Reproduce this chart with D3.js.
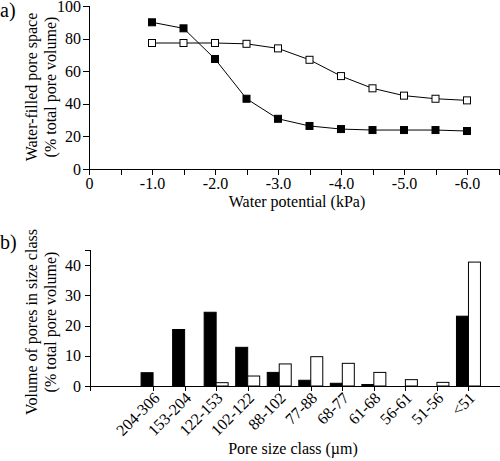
<!DOCTYPE html>
<html>
<head>
<meta charset="utf-8">
<script src="https://cdn.jsdelivr.net/npm/d3@7"></script>
<style>
  html, body { margin: 0; padding: 0; background: #fff; }
  svg { display: block; }
</style>
</head>
<body>
<script>
// ---------- Data: panel a ----------
const potentials = [-1.0, -1.5, -2.0, -2.5, -3.0, -3.5, -4.0, -4.5, -5.0, -5.5, -6.0];
const filledSeries = [90, 86.3, 67.5, 43.1, 30.8, 26.4, 24.5, 23.9, 23.9, 23.9, 23.3];
const openSeries = [77.3, 77.3, 77.3, 76.8, 74, 67, 57, 49.5, 45, 43.1, 42.1];
const xTicksA = [0, -0.5, -1.0, -1.5, -2.0, -2.5, -3.0, -3.5, -4.0, -4.5, -5.0, -5.5, -6.0];
const yTicksA = [0, 20, 40, 60, 80, 100];

// ---------- Data: panel b ----------
const poreClasses = ["204-306", "153-204", "122-153", "102-122", "88-102", "77-88", "68-77", "61-68", "56-61", "51-56", "<51"];
const blackBars = [4.4, 18.7, 24.4, 12.8, 4.5, 1.9, 0.9, 0.5, 0, 0, 23.1];
const whiteBars = [0, 0, 1.1, 3.3, 7.3, 9.7, 7.5, 4.5, 2.1, 1.2, 41];
const yTicksB = [0, 10, 20, 30, 40];

const FONT = "'Liberation Serif', 'Times New Roman', Times, serif";
const W = 500, H = 461;
const svg = d3.select("body").append("svg").attr("width", W).attr("height", H)
  .style("font-family", FONT);

function styleAxis(g) {
  g.attr("font-family", null).attr("font-size", null);
  g.selectAll("path, line").attr("stroke", "#000").attr("shape-rendering", "crispEdges");
  g.selectAll("text").style("font-family", FONT).style("font-size", "16px").attr("fill", "#000");
}

// ================= Panel a =================
const xa = d3.scaleLinear().domain([0, -6.5]).range([89, 498.5]);
const ya = d3.scaleLinear().domain([0, 100]).range([169, 6]);

svg.append("g")
  .attr("transform", "translate(0,169)")
  .call(d3.axisBottom(xa).tickValues(xTicksA).tickSizeOuter(0).tickSize(6).tickPadding(3)
    .tickFormat(d => d === 0 ? "0" : (Math.abs(d % 1) < 1e-9 ? d.toFixed(1) : "")))
  .call(styleAxis);

svg.append("g")
  .attr("transform", "translate(89,0)")
  .call(d3.axisLeft(ya).tickValues(yTicksA).tickSizeOuter(0).tickSize(6).tickPadding(2))
  .call(styleAxis);

const lineA = d3.line().x((d, i) => xa(potentials[i])).y(d => ya(d));

svg.append("path").datum(openSeries).attr("d", lineA)
  .attr("fill", "none").attr("stroke", "#000").attr("stroke-width", 1);
svg.append("path").datum(filledSeries).attr("d", lineA)
  .attr("fill", "none").attr("stroke", "#000").attr("stroke-width", 1);

const ms = 7;
svg.append("g").selectAll("rect").data(openSeries).join("rect")
  .attr("x", (d, i) => xa(potentials[i]) - ms / 2)
  .attr("y", d => ya(d) - ms / 2)
  .attr("width", ms).attr("height", ms)
  .attr("fill", "#fff").attr("stroke", "#000").attr("stroke-width", 1);
svg.append("g").selectAll("rect").data(filledSeries).join("rect")
  .attr("x", (d, i) => xa(potentials[i]) - ms / 2)
  .attr("y", d => ya(d) - ms / 2)
  .attr("width", ms).attr("height", ms)
  .attr("fill", "#000").attr("stroke", "#000").attr("stroke-width", 1);

svg.append("text").attr("x", 0).attr("y", 17).style("font-size", "20px").text("a)");

svg.append("text").attr("x", 297).attr("y", 207).attr("text-anchor", "middle")
  .style("font-size", "16px").text("Water potential (kPa)");

const yTitleA = svg.append("text").attr("transform", "translate(0,87) rotate(-90)")
  .attr("text-anchor", "middle").style("font-size", "16px");
yTitleA.append("tspan").attr("x", 0).attr("y", 37).text("Water-filled pore space");
yTitleA.append("tspan").attr("x", 0).attr("y", 56).text("(% total pore volume)");

// ================= Panel b =================
const xb = d3.scaleLinear().domain([0, 13]).range([90, 500]);
const yb = d3.scaleLinear().domain([0, 45]).range([386, 250]);
const idx = poreClasses.map((c, i) => i + 2);

svg.append("g")
  .attr("transform", "translate(0,386)")
  .call(d3.axisBottom(xb).tickValues([0].concat(idx)).tickSizeOuter(0).tickSize(5)
    .tickFormat(d => d === 0 ? "" : poreClasses[d - 2]))
  .call(styleAxis)
  .call(g => g.selectAll(".tick text")
    .attr("x", 0).attr("y", 0).attr("dy", 0)
    .attr("text-anchor", "end")
    .attr("transform", "translate(7,13) rotate(-45)"));

svg.append("g")
  .attr("transform", "translate(90,0)")
  .call(d3.axisLeft(yb).tickValues(yTicksB).tickSizeOuter(0).tickSize(5).tickPadding(4))
  .call(styleAxis);

const barData = poreClasses.map((c, i) => ({ i: idx[i], black: blackBars[i], white: whiteBars[i] }));
const bw = 12;
svg.append("g").selectAll("rect").data(barData.filter(d => d.black > 0)).join("rect")
  .attr("x", d => xb(d.i) - bw)
  .attr("y", d => yb(d.black))
  .attr("width", bw).attr("height", d => yb(0) - yb(d.black))
  .attr("fill", "#000").attr("stroke", "#000").attr("stroke-width", 1);
svg.append("g").selectAll("rect").data(barData.filter(d => d.white > 0)).join("rect")
  .attr("x", d => xb(d.i))
  .attr("y", d => yb(d.white))
  .attr("width", bw).attr("height", d => yb(0) - yb(d.white))
  .attr("fill", "#fff").attr("stroke", "#000").attr("stroke-width", 1);

svg.append("text").attr("x", 0).attr("y", 249).style("font-size", "20px").text("b)");

svg.append("text").attr("x", 293).attr("y", 454).attr("text-anchor", "middle")
  .style("font-size", "16px").text("Pore size class (\u00b5m)");

const yTitleB = svg.append("text").attr("transform", "translate(0,322) rotate(-90)")
  .attr("text-anchor", "middle").style("font-size", "16px");
yTitleB.append("tspan").attr("x", 0).attr("y", 37).text("Volume of pores in size class");
yTitleB.append("tspan").attr("x", 0).attr("y", 56).text("(% total pore volume)");
</script>
</body>
</html>
